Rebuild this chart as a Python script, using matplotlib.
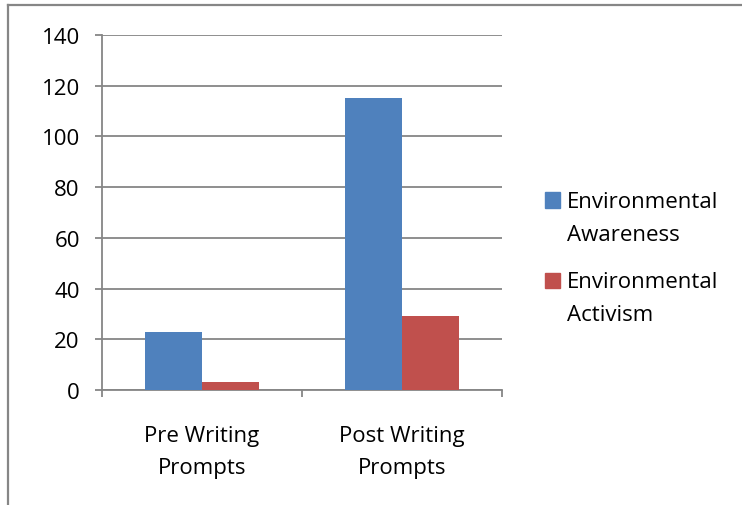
import matplotlib.pyplot as plt
from matplotlib.lines import Line2D
from matplotlib.patches import Rectangle

categories = ["Pre Writing\nPrompts", "Post Writing\nPrompts"]
awareness = [23, 115]
activism = [3, 29]
series_names = ["Environmental\nAwareness", "Environmental\nActivism"]
y_ticks = [0, 20, 40, 60, 80, 100, 120, 140]

blue = "#4F81BD"
red = "#C0504D"
grey = "#868686"

plt.rcParams["font.family"] = ["Open Sans", "DejaVu Sans"]
plt.rcParams["font.size"] = 16

fig = plt.figure(figsize=(7.42, 5.06), dpi=100)
W, H = 742, 506

# chart frame (only left and top edges visible)
fig.add_artist(Line2D([8 / W, 8 / W], [0, 1 - 6 / H], color=grey, lw=1.6))
fig.add_artist(Line2D([8 / W, 1], [1 - 6 / H, 1 - 6 / H], color=grey, lw=1.6))

ax = fig.add_axes([102 / W, 1 - 391 / H, 400 / W, 355 / H])

x = range(len(categories))
w = 0.285
ax.bar([i - w / 2 for i in x], awareness, width=w, color=blue, zorder=3)
ax.bar([i + w / 2 for i in x], activism, width=w, color=red, zorder=3)

ax.set_xlim(-0.5, len(categories) - 0.5)
ax.set_ylim(0, 140)
ax.set_yticks(y_ticks)
ax.yaxis.grid(True, color=grey, lw=1.3, zorder=0)
ax.set_axisbelow(True)

ax.set_xticks(list(x))
ax.set_xticklabels(categories, linespacing=1.7)
ax.set_xticks([-0.5, 0.5, 1.5], minor=True)
ax.tick_params(axis="x", which="major", length=0, pad=25)
ax.tick_params(axis="x", which="minor", length=5, width=1.3, color=grey, direction="out")
ax.tick_params(axis="y", length=5, width=1.3, color=grey, pad=11)

for s in ["top", "right"]:
    ax.spines[s].set_visible(False)
for s in ["left", "bottom"]:
    ax.spines[s].set_color(grey)
    ax.spines[s].set_linewidth(1.3)

# legend, Excel style: square beside the first line of each label
entry_top = [208, 288]  # baseline of the first line, px from top
line_gap = 33
for name, col, base in zip(series_names, [blue, red], entry_top):
    fig.add_artist(Rectangle((545 / W, 1 - (base + 0.5) / H), 15 / W, 15 / H,
                             transform=fig.transFigure, color=col))
    for k, line in enumerate(name.split("\n")):
        fig.text(567 / W, 1 - (base + k * line_gap) / H, line, va="baseline", ha="left")

fig.savefig("out.png", dpi=100)
